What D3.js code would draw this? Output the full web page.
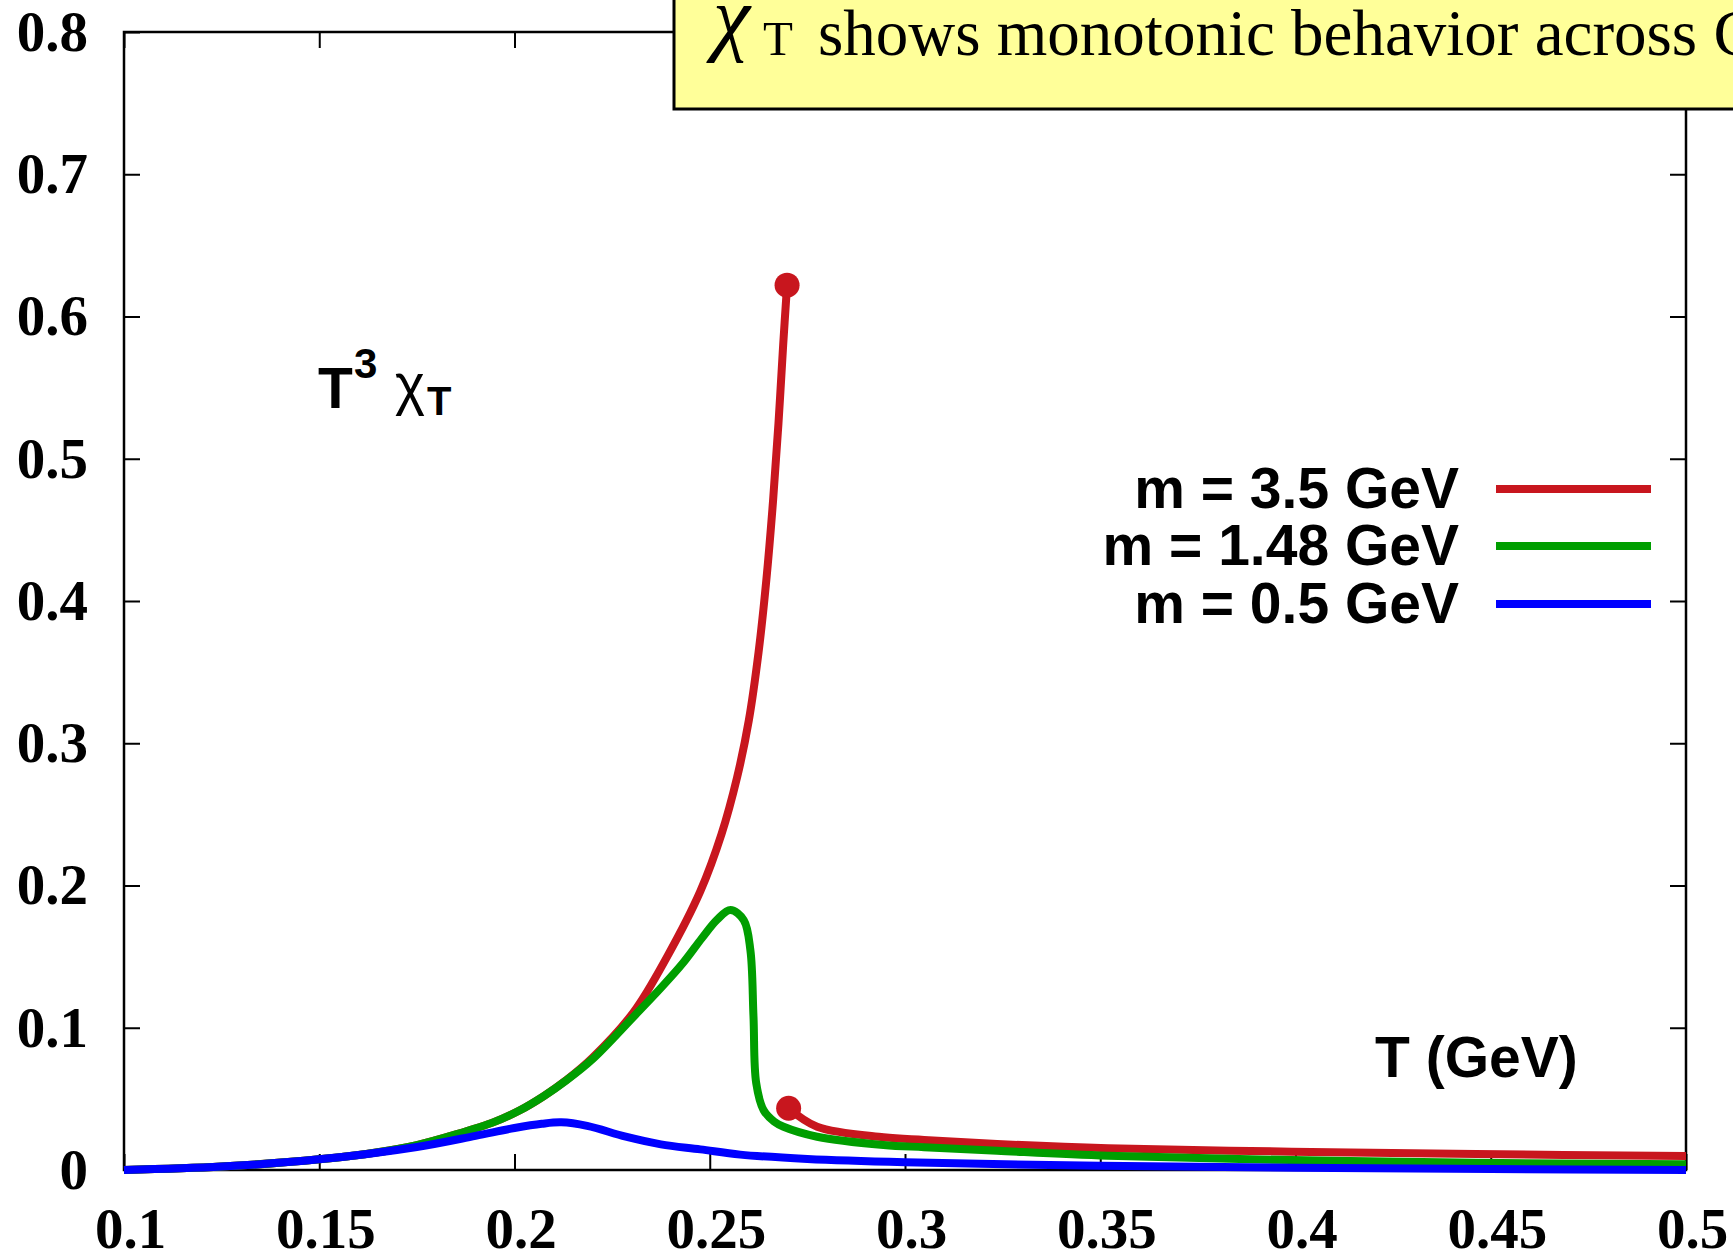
<!DOCTYPE html>
<html>
<head>
<meta charset="utf-8">
<script src="https://cdn.jsdelivr.net/npm/d3@7"></script>
<style>
  html, body { margin: 0; padding: 0; background: #fff; overflow: hidden; }
  .tick-label { font-family: "Liberation Serif", serif; font-weight: bold; font-size: 57px; fill: #000; }
  .sans { font-family: "Liberation Sans", Arial, sans-serif; font-weight: bold; fill: #000; }
</style>
</head>
<body>
<div id="chart"></div>
<script>
// Axis ticks
const xTicks = [0.1, 0.15, 0.2, 0.25, 0.3, 0.35, 0.4, 0.45, 0.5];
const xTickLabels = ["0.1", "0.15", "0.2", "0.25", "0.3", "0.35", "0.4", "0.45", "0.5"];
const yTicks = [0, 0.1, 0.2, 0.3, 0.4, 0.5, 0.6, 0.7, 0.8];
const yTickLabels = ["0", "0.1", "0.2", "0.3", "0.4", "0.5", "0.6", "0.7", "0.8"];

// m = 3.5 GeV, lower branch (ends at the upper dot)
const redLowT   = [0.10, 0.125, 0.15, 0.165, 0.175, 0.185, 0.195, 0.2015, 0.2075, 0.2134, 0.22, 0.2305, 0.2391, 0.2476, 0.253, 0.257, 0.26, 0.2625, 0.2645, 0.2662, 0.2676, 0.2688, 0.2698];
const redLowChi = [0.0, 0.0024, 0.0075, 0.0125, 0.0175, 0.025, 0.034, 0.0422, 0.052, 0.0635, 0.079, 0.111, 0.150, 0.196, 0.236, 0.276, 0.316, 0.364, 0.415, 0.470, 0.525, 0.580, 0.622];
// m = 3.5 GeV, upper branch (starts at the lower dot)
const redHighT   = [0.2702, 0.2775, 0.2945, 0.3049, 0.3236, 0.352, 0.399, 0.4462, 0.50];
const redHighChi = [0.0434, 0.0304, 0.023, 0.0211, 0.0183, 0.0153, 0.0129, 0.0112, 0.0098];

// m = 1.48 GeV
const greenT   = [0.10, 0.125, 0.15, 0.165, 0.175, 0.185, 0.195, 0.2015, 0.2075, 0.2134, 0.22, 0.2305, 0.2375, 0.2433, 0.248, 0.2519, 0.2553, 0.2587, 0.2604, 0.2612, 0.2619, 0.2638, 0.2665, 0.2689, 0.2775, 0.2945, 0.3049, 0.3236, 0.352, 0.399, 0.4462, 0.50];
const greenChi = [0.0, 0.0024, 0.0075, 0.0125, 0.0175, 0.025, 0.034, 0.0422, 0.052, 0.0633, 0.078, 0.1078, 0.128, 0.146, 0.163, 0.176, 0.1828, 0.1757, 0.1547, 0.1078, 0.061, 0.042, 0.034, 0.0304, 0.0234, 0.0176, 0.016, 0.0135, 0.010, 0.007, 0.0051, 0.004];

// m = 0.5 GeV
const blueT   = [0.10, 0.125, 0.15, 0.175, 0.19, 0.20, 0.207, 0.212, 0.2186, 0.2285, 0.2375, 0.2476, 0.2578, 0.275, 0.30, 0.35, 0.40, 0.45, 0.50];
const blueChi = [0.0, 0.0024, 0.0075, 0.0162, 0.024, 0.0295, 0.0325, 0.0335, 0.031, 0.0234, 0.018, 0.0145, 0.0108, 0.0078, 0.0055, 0.003, 0.0016, 0.0007, 0.0];

const legendLabels = ["m = 3.5 GeV", "m = 1.48 GeV", "m = 0.5 GeV"];
const colors = ["#c8161e", "#009e00", "#0000ff"];

const width = 1733;
const height = 1257;
const plot = { left: 124, right: 1686, top: 32, bottom: 1170 };

const svg = d3.select("#chart")
  .append("svg")
  .attr("width", width)
  .attr("height", height);

const x = d3.scaleLinear().domain([0.1, 0.5]).range([plot.left, plot.right]);
const y = d3.scaleLinear().domain([0, 0.8]).range([plot.bottom, plot.top]);

// ticks on all four sides, pointing inward
const tickLen = 16;
const bottomAxis = svg.append("g")
  .attr("transform", `translate(0,${plot.bottom})`)
  .call(d3.axisBottom(x).tickValues(xTicks).tickSize(-tickLen).tickPadding(38)
    .tickFormat((d, i) => xTickLabels[i]));
bottomAxis.selectAll("text").attr("class", "tick-label").attr("dx", 6);

const leftAxis = svg.append("g")
  .attr("transform", `translate(${plot.left},0)`)
  .call(d3.axisLeft(y).tickValues(yTicks).tickSize(-tickLen).tickPadding(36)
    .tickFormat((d, i) => yTickLabels[i]));
leftAxis.selectAll("text").attr("class", "tick-label");

svg.append("g")
  .attr("transform", `translate(0,${plot.top})`)
  .call(d3.axisTop(x).tickValues(xTicks).tickSize(-tickLen).tickFormat(""));
svg.append("g")
  .attr("transform", `translate(${plot.right},0)`)
  .call(d3.axisRight(y).tickValues(yTicks).tickSize(-tickLen).tickFormat(""));

svg.selectAll(".domain").remove();
svg.selectAll(".tick line").attr("stroke", "#000").attr("stroke-width", 2);

// frame
svg.append("rect")
  .attr("x", plot.left).attr("y", plot.top)
  .attr("width", plot.right - plot.left).attr("height", plot.bottom - plot.top)
  .attr("fill", "none").attr("stroke", "#000").attr("stroke-width", 2.5);

// curves
const line = d3.line()
  .x(d => x(d[0]))
  .y(d => y(d[1]))
  .curve(d3.curveCatmullRom.alpha(0.5));

const series = [
  { t: redLowT, v: redLowChi, c: colors[0] },
  { t: redHighT, v: redHighChi, c: colors[0] },
  { t: greenT, v: greenChi, c: colors[1] },
  { t: blueT, v: blueChi, c: colors[2] }
];

series.forEach(s => {
  svg.append("path")
    .datum(d3.zip(s.t, s.v))
    .attr("d", line)
    .attr("fill", "none")
    .attr("stroke", s.c)
    .attr("stroke-width", 8)
    .attr("stroke-linejoin", "round");
});

// endpoints of the two red branches
const redDots = [[redLowT[redLowT.length - 1], redLowChi[redLowChi.length - 1]], [redHighT[0], redHighChi[0]]];
svg.selectAll(".dot")
  .data(redDots)
  .enter().append("circle")
  .attr("cx", d => x(d[0]))
  .attr("cy", d => y(d[1]))
  .attr("r", 12.5)
  .attr("fill", colors[0]);

// y label: T^3 chi_T
const ylab = svg.append("g").attr("class", "sans");
ylab.append("text").attr("x", 318).attr("y", 408).attr("font-size", 57).text("T");
ylab.append("text").attr("x", 354).attr("y", 378).attr("font-size", 42).text("3");
ylab.append("text").attr("x", 395).attr("y", 404).attr("font-size", 57)
  .attr("font-weight", "normal").text("χ");
ylab.append("text").attr("x", 427).attr("y", 415).attr("font-size", 40).text("T");

// x label
svg.append("text").attr("class", "sans")
  .attr("x", 1375).attr("y", 1077).attr("font-size", 57)
  .text("T (GeV)");

// legend
const legendY = [489, 546, 604];
legendLabels.forEach((label, i) => {
  svg.append("text").attr("class", "sans")
    .attr("x", 1459).attr("y", legendY[i] + 19)
    .attr("text-anchor", "end").attr("font-size", 57)
    .text(label);
  svg.append("line")
    .attr("x1", 1496).attr("x2", 1651)
    .attr("y1", legendY[i]).attr("y2", legendY[i])
    .attr("stroke", colors[i]).attr("stroke-width", 8);
});

// annotation box on top
svg.append("rect")
  .attr("x", 674).attr("y", -10)
  .attr("width", 1200).attr("height", 119)
  .attr("fill", "#ffff99").attr("stroke", "#000").attr("stroke-width", 3);

const note = svg.append("text")
  .attr("y", 55)
  .style("font-family", "'Liberation Serif', serif")
  .attr("fill", "#000");
note.append("tspan").attr("x", 713).attr("y", 45).attr("font-size", 84).attr("font-style", "italic").text("χ");
note.append("tspan").attr("x", 763).attr("y", 55).attr("font-size", 49).text("T");
note.append("tspan").attr("x", 818).attr("y", 55).attr("font-size", 65).text("shows monotonic behavior across C");
</script>
</body>
</html>
